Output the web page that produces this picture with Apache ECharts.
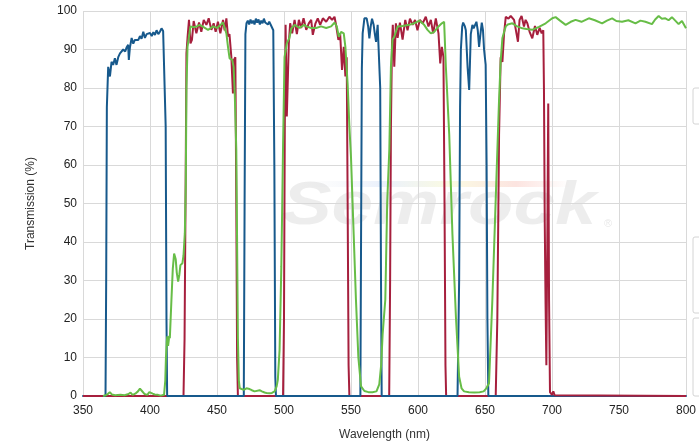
<!DOCTYPE html>
<html>
<head>
<meta charset="utf-8">
<script src="https://cdn.jsdelivr.net/npm/echarts@6/dist/echarts.min.js"></script>
<style>
  html, body { margin: 0; padding: 0; background: #fff; }
  #main { width: 699px; height: 446px; }
</style>
</head>
<body>
<div id="main"></div>
<script>
// wavelength (nm), transmission (%)
var xTicks = [350, 400, 450, 500, 550, 600, 650, 700, 750, 800];
var yTicks = [0, 10, 20, 30, 40, 50, 60, 70, 80, 90, 100];

var blueData = [
  [365, 0], [366.8, 0], [367.3, 30], [367.8, 75], [368.8, 85.5], [370.1, 83], [371.3, 86.8], [372.5, 86], [373.8, 87.7],
  [375, 86], [376.3, 88], [377.6, 89], [378.8, 88.5], [380, 90], [381.5, 89.5], [382.5, 90.5], [383.7, 91.2], [384.2, 87.3],
  [385, 90.5], [386.3, 93], [387.5, 91.5], [388.7, 92.5], [390, 93], [391.3, 92.5], [392.5, 93.5], [393.7, 92.8], [395, 94.6],
  [396.2, 93], [397.5, 94], [398.7, 93.5], [400, 94.3], [401.3, 93.5], [402.5, 94.5], [403.7, 93.8], [404.9, 95], [406.2, 94],
  [407.4, 94.6], [408.6, 95.5], [409.8, 94.8], [411, 94.5], [411.7, 70], [412.3, 20], [412.8, 0],
  [470, 0], [470.6, 50], [471.2, 94], [472, 96.8], [473, 97.5], [474, 96.5], [475, 97.8], [476, 96.8], [477, 97.5], [478, 96.5],
  [479, 98], [480, 97], [481, 97.8], [482, 96.5], [483, 97.5], [484, 96.8], [485, 98], [486, 97], [487, 97.5], [488, 96.5],
  [489, 97.2], [490, 96.5], [491, 97], [492, 95], [492.8, 60], [493.5, 5], [494, 0],
  [557, 0], [557.5, 40], [558.1, 85], [558.7, 94.2], [560, 98.1], [561.7, 98.1], [562.8, 96], [563.7, 92.9], [564.7, 96],
  [565.7, 98], [566.9, 96.4], [567.8, 94], [568.7, 92], [569.9, 96.4], [571.2, 96], [571.8, 80], [572.4, 30], [572.9, 0],
  [629.5, 0], [630.7, 30], [631.4, 75], [632, 90], [633, 96], [633.7, 97], [635, 96], [635.7, 95], [637, 85.5], [638.2, 79.5],
  [639.4, 94], [640.6, 96.4], [641.5, 95.5], [642.4, 96], [643.6, 97.2], [644.6, 95], [645.6, 90.7], [646.6, 94], [647.6, 97],
  [648.5, 95], [649.3, 90], [650.5, 86], [651.2, 60], [651.8, 20], [652.5, 0], [697, 0]
];

var redData = [
  [350, 0], [425, 0], [425.8, 15], [426.5, 50], [427.2, 89], [428, 93], [429.1, 97.7], [430.2, 91.6], [431.3, 92.5],
  [432.6, 97.4], [434.6, 94.2], [436.6, 97], [438.3, 94.6], [440.1, 97.7], [442.1, 96.4], [443.8, 98.1], [445.8, 95.1],
  [447.5, 96.8], [449, 94.6], [450.7, 97.2], [452.5, 94.2], [454.5, 97.7], [455.7, 95], [457, 98.1], [458.2, 93.4],
  [459.3, 94], [460.7, 88.1], [461.9, 78.6], [462.6, 87.3], [463.7, 88], [464.4, 50], [465, 10], [465.6, 0],
  [499.3, 0], [500, 20], [500.6, 70], [501.2, 96.4], [502.1, 72.6], [503.6, 91.6], [504.6, 96.8], [506.1, 94.2], [507.9, 97.7],
  [509.6, 94], [511.1, 97.7], [512.8, 95.6], [514.6, 98.1], [516.6, 95.1], [518.5, 96.8], [520.3, 97.7], [521.5, 93.8],
  [523.5, 96.8], [525.2, 98.1], [527, 96.4], [529, 98.1], [531.5, 97.2], [533.9, 98.5], [535.9, 97.7], [537.7, 98.5],
  [538.9, 96.3], [540.6, 92.5], [541.9, 94.2], [543.3, 84.7], [544.6, 90.7], [545.8, 83], [546.8, 88], [547.5, 50],
  [548.2, 8], [548.8, 0],
  [578.5, 0], [579.2, 30], [579.8, 70], [580.6, 91.6], [581.2, 96.4], [582.3, 85.5], [583.5, 96.8], [584.8, 93], [586.5, 97],
  [588.5, 92.6], [590.5, 97.7], [592.2, 95], [594, 98], [596, 96.4], [597.8, 97.7], [599.6, 95], [601.4, 97.7], [603.5, 96.8],
  [605.8, 98.5], [607.8, 96], [609.6, 97.7], [611.3, 94.2], [613.3, 98.1], [615.3, 94.2], [616.6, 86.4], [617.8, 90.7],
  [619, 88], [619.8, 50], [620.5, 8], [621, 0],
  [658, 0], [659.2, 20], [660.5, 68], [661.7, 88], [663, 86.8], [664.2, 94], [665.5, 98.5], [667.5, 98], [669.2, 98.7],
  [670.4, 98.5], [671.7, 97.7], [672.9, 97.7], [674.6, 92], [675.8, 97.7], [677.3, 98.7], [679.1, 96], [680.3, 97.7],
  [681.6, 96.8], [683.3, 94.6], [685.3, 92.9], [687.3, 96.1], [689, 93.8], [690.8, 95.6], [692.3, 94.2], [693.5, 95],
  [694, 80], [694.6, 45], [695.2, 24], [695.8, 8], [696.5, 40], [697.2, 76], [697.8, 25], [698.5, 1], [700, 0.3],
  [701, 1.2], [701.4, 1.7], [702, 0.2], [702.5, 0], [800, 0]
];

var greenData = [
  [365, 0], [367, 0.2], [368.5, 0.5], [370, 1.0], [371.5, 0.4], [374, 0.2], [378, 0.3], [381, 0.2], [384, 0.5], [385.5, 0.9],
  [387, 0.3], [389, 0.6], [391, 1.2], [392.5, 1.9], [394, 1.3], [396, 0.5], [398, 0.3], [399.5, 1], [400.6, 1.5], [402, 0.6],
  [403.5, 0.4], [404.8, 0.8], [406, 0.3], [408, 0.1], [410.5, 0.3], [411.4, 4], [411.9, 10], [412.5, 14], [412.9, 15.5],
  [413.5, 13], [414, 12.5], [414.4, 15.6], [414.8, 15], [416, 25], [417, 33], [418, 37], [419.2, 35.5], [420, 32],
  [421, 29.7], [421.9, 31.5], [422.7, 34], [423.5, 33.8], [424.2, 34.5], [425, 36.5], [426, 42.3], [426.7, 55], [427.2, 80],
  [428, 90.7], [430.2, 96], [432, 95.8], [435, 96], [437.1, 96.4], [440, 95.8], [443.3, 95.1], [445, 95.5], [447, 96],
  [450, 95.6], [452, 96.2], [454.5, 97], [455.7, 97.2], [457, 94.2], [458.2, 90.7], [459.4, 87.7], [461.4, 87.3],
  [462.4, 85.5], [463.3, 78], [464.4, 64], [465, 40], [465.6, 15], [466.3, 4], [467, 2], [468.2, 1.8], [470, 1.6], [472, 2],
  [474.3, 1.8], [476, 1.5], [478, 1.2], [479.3, 1.2], [481.8, 1.5], [483.5, 1.2], [485.5, 0.9], [487, 0.8], [489.2, 0.7],
  [491, 0.8], [493, 1.2], [494.5, 2.5], [495.4, 4.2], [496.7, 12], [497.5, 25], [498, 33.6], [498.7, 50], [499.3, 65],
  [500.4, 88], [502.1, 91.6], [504, 93], [505.5, 95.5], [507.9, 96.4], [511.6, 95.6], [515.1, 96.4], [516.6, 96],
  [520.3, 95.6], [524, 95.6], [527.7, 96], [531.5, 95.6], [535.2, 96], [537.7, 97], [539.4, 96], [540.9, 93.3],
  [542.6, 94.6], [544.6, 94.2], [545.8, 90.7], [547.5, 81], [548.8, 70], [550, 62], [552, 42], [553.7, 25], [555.5, 10],
  [557.5, 2.5], [560, 1.3], [563, 1], [566, 1], [569, 1.2], [571.1, 3], [572.5, 8], [573.6, 16], [575.6, 25], [577, 50],
  [578.6, 64], [579.8, 85.5], [581, 92.6], [582.3, 93.3], [584.8, 96], [588.5, 96.1], [593.5, 96.4], [597.2, 96.8],
  [601, 97.5], [604.6, 96.4], [607.1, 95.1], [609.6, 94.2], [612.1, 94.6], [615.3, 96], [617.8, 96.8], [619.5, 97.2],
  [620.8, 85.5], [623.3, 68], [625.7, 42], [628.3, 20.6], [630.7, 5], [632.5, 2], [634.4, 1.2], [638, 1], [642, 0.9],
  [646, 1], [649, 1.2], [651, 2], [653, 3.3], [655.5, 25], [658, 51], [660.5, 77], [661.7, 87], [663, 93], [664.2, 94.5],
  [665.5, 96], [667, 96.5], [670.4, 96.8], [674, 96], [677.9, 95.5], [681, 95.3], [685.3, 95.1], [690.3, 95.9],
  [695.3, 96.8], [700.2, 98.1], [702.7, 98.4], [706, 97.5], [710.2, 96.4], [714, 97.2], [717.6, 97.7], [722, 97.2],
  [727.5, 98.1], [732, 97.6], [737.4, 96.8], [741, 97.5], [744.9, 98.1], [748, 97.4], [752.3, 97.2], [757, 97.6],
  [762.3, 96.8], [766, 97.5], [769.7, 97.2], [774.6, 96.6], [777, 97.8], [779.6, 98.7], [782, 98], [784.6, 98.1],
  [787, 97.6], [789.5, 98.4], [792, 97.5], [794.5, 96.6], [797, 97.4], [800, 95.5]
];

(function () {
  var myChart = echarts.init(document.getElementById('main'));
  var font = 'Liberation Sans, Arial, sans-serif';

  option = {
    animation: false,
    backgroundColor: '#fff',
    grid: { left: 83, right: 11, top: 11, bottom: 50 },
    graphic: [
      // faint watermark
      {
        type: 'text', x: 282, y: 176, scaleX: 1.2, z: -1,
        style: { text: 'Semrock', font: 'italic bold 62px ' + font, fill: 'rgba(0,0,0,0.07)' }
      },
      {
        type: 'text', x: 604, y: 218, z: -1,
        style: { text: '®', font: '11px ' + font, fill: 'rgba(0,0,0,0.1)' }
      },
      {
        type: 'rect', z: -1, shape: { x: 300, y: 181, width: 270, height: 6 },
        style: {
          fill: new echarts.graphic.LinearGradient(0, 0, 1, 0, [
            { offset: 0, color: 'rgba(200,200,200,0)' },
            { offset: 0.3, color: 'rgba(120,160,230,0.15)' },
            { offset: 0.55, color: 'rgba(230,230,100,0.18)' },
            { offset: 0.8, color: 'rgba(240,120,100,0.2)' },
            { offset: 1, color: 'rgba(240,120,100,0)' }
          ])
        }
      },
      // clipped legend boxes on the right edge
      { type: 'rect', shape: { x: 693, y: 88, width: 20, height: 36, r: 2 }, style: { fill: '#fff', stroke: '#d4d4d4' } },
      { type: 'rect', shape: { x: 693, y: 237, width: 20, height: 76, r: 2 }, style: { fill: '#fff', stroke: '#d4d4d4' } },
      { type: 'rect', shape: { x: 693, y: 318, width: 20, height: 78, r: 2 }, style: { fill: '#fff', stroke: '#d4d4d4' } }
    ],
    xAxis: {
      type: 'value',
      min: xTicks[0],
      max: xTicks[xTicks.length - 1],
      interval: 50,
      name: 'Wavelength (nm)',
      nameLocation: 'middle',
      nameGap: 33,
      nameTextStyle: { color: '#333', fontSize: 12, fontFamily: font },
      axisLine: { lineStyle: { color: '#1b5b8e', width: 2 } },
      axisTick: { show: false },
      axisLabel: { color: '#222', fontSize: 12, fontFamily: font, margin: 9 },
      splitLine: { show: true, lineStyle: { color: '#d9d9d9', width: 1 } }
    },
    yAxis: {
      type: 'value',
      min: yTicks[0],
      max: yTicks[yTicks.length - 1],
      interval: 10,
      name: 'Transmission (%)',
      nameLocation: 'middle',
      nameGap: 46,
      nameTextStyle: { color: '#333', fontSize: 12, fontFamily: font },
      axisLine: { show: false },
      axisTick: { show: false },
      axisLabel: { color: '#222', fontSize: 12, fontFamily: font, margin: 6 },
      splitLine: { lineStyle: { color: '#d9d9d9', width: 1 } }
    },
    series: [
      {
        type: 'line', name: 'red', data: redData, symbol: 'none', z: 2,
        lineStyle: { color: '#a61f3d', width: 2 }
      },
      {
        type: 'line', name: 'blue', data: blueData, symbol: 'none', z: 3,
        lineStyle: { color: '#17598c', width: 2 }
      },
      {
        type: 'line', name: 'green', data: greenData, symbol: 'none', z: 4,
        lineStyle: { color: '#67bd47', width: 2 }
      }
    ]
  };

  myChart.setOption(option);
})();
</script>
</body>
</html>
